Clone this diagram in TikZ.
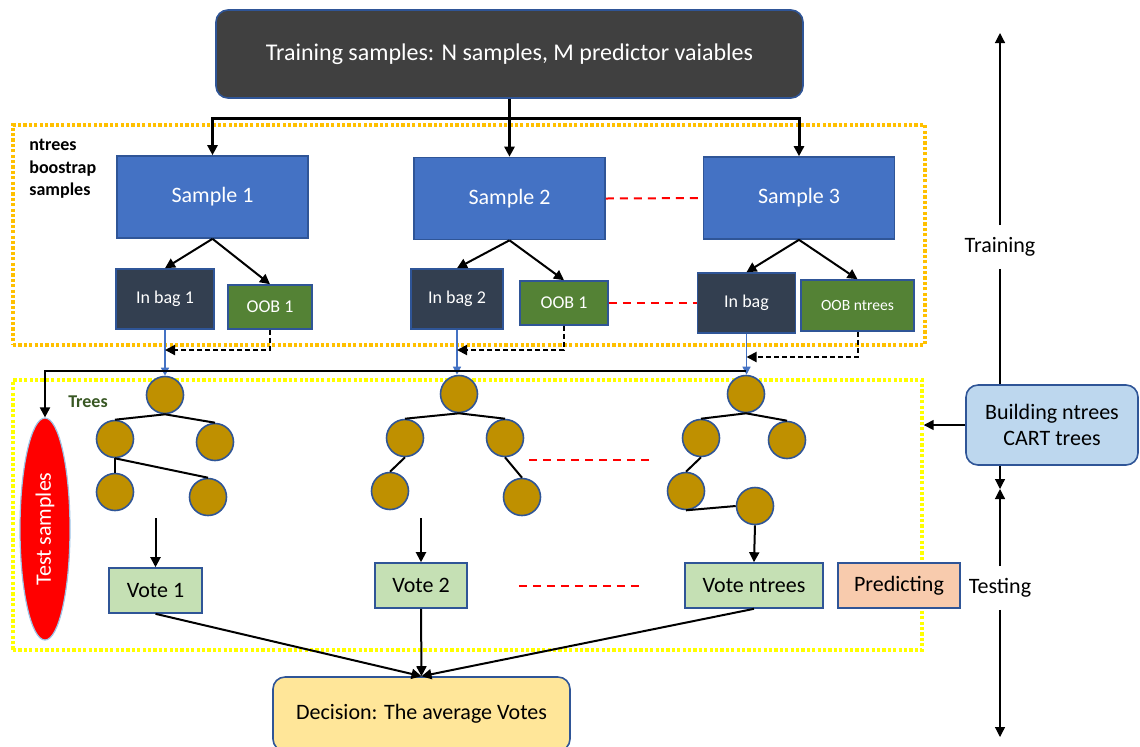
\documentclass[tikz,border=0pt]{standalone}
\usepackage{fontspec}
\setmainfont{Carlito}
\usetikzlibrary{trees,shapes.geometric,arrows.meta}

\definecolor{boxblue}{HTML}{4472C4}
\definecolor{edgeblue}{HTML}{2F5597}
\definecolor{topgray}{HTML}{404040}
\definecolor{baggray}{HTML}{333F50}
\definecolor{oobgreen}{HTML}{548235}
\definecolor{leafgold}{HTML}{BF9000}
\definecolor{votegreen}{HTML}{C5E0B4}
\definecolor{predpeach}{HTML}{F8CBAD}
\definecolor{decyellow}{HTML}{FFE699}
\definecolor{buildblue}{HTML}{BDD7EE}
\definecolor{frameorange}{HTML}{FFC000}
\definecolor{frameyellow}{HTML}{FFFF00}
\definecolor{treegreen}{HTML}{385723}
\definecolor{rimblue}{HTML}{9DC3E6}

\begin{document}
\begin{tikzpicture}[x=0.5pt, y=-0.5pt, >={Triangle[length=5pt,width=5pt]},
  level distance=22pt, sibling distance=50pt,
  level 2/.style={level distance=26.5pt, sibling distance=46.5pt},
  edge from parent/.style={draw, line width=1pt},
  edge from parent path={(\tikzparentnode.south) -- (\tikzchildnode.north)},
  box/.style={draw=edgeblue, line width=0.8pt, inner sep=0pt, align=center},
  samplebox/.style={box, fill=boxblue, text=white, minimum width=95.5pt,
    minimum height=41pt, font=\fontsize{11}{13}\selectfont},
  bagbox/.style={box, fill=baggray, text=white, minimum width=49pt,
    minimum height=30pt, font=\fontsize{9}{11}\selectfont},
  oobbox/.style={box, fill=oobgreen, text=white, minimum height=22pt,
    font=\fontsize{9}{11}\selectfont},
  votebox/.style={box, fill=votegreen, minimum height=22.5pt,
    font=\fontsize{11}{13}\selectfont},
  leaf/.style={circle, draw=edgeblue, line width=0.8pt, fill=leafgold,
    minimum size=18.5pt, inner sep=0pt},
  frame/.style={line width=1.7pt, dash pattern=on 1.6pt off 1.1pt, inner sep=0pt},
  feed/.style={->, line width=1.5pt},
  split/.style={->, line width=1pt},
  baglink/.style={-{Triangle[length=4pt,width=4pt]}, boxblue, line width=0.6pt},
  ooblink/.style={->, line width=1pt, dash pattern=on 2.5pt off 1.5pt},
  gap/.style={red, line width=1pt, dash pattern=on 4pt off 3pt},
  axis/.style={->, line width=0.6pt},
  phase/.style={font=\fontsize{11}{13}\selectfont, inner sep=6pt}]
  \useasboundingbox (0,0) rectangle (1140,746);

  % frames
  \node[frame, draw=frameorange, minimum width=456pt, minimum height=110pt]
    (bagframe) at (469,235) {};
  \node[frame, draw=frameyellow, minimum width=454.5pt, minimum height=135pt]
    (treeframe) at (467.5,515) {};

  % data and bootstrap samples
  \node[box, fill=topgray, text=white, rounded corners=6pt, minimum width=293.5pt,
    minimum height=44pt, font=\fontsize{12}{14}\selectfont]
    (source) at (509.5,54) {Training samples: N samples, M predictor vaiables};
  \node[font=\bfseries\fontsize{9}{11.25}\selectfont, align=left, anchor=north west,
    inner sep=0pt] (baglabel) at (29,139) {ntrees\\boostrap\\samples};
  \node[samplebox] (s1) at (212.5,197) {Sample 1};
  \node[samplebox] (s2) at (509.5,198.5) {Sample 2};
  \node[samplebox] (s3) at (799,198) {Sample 3};
  \node[bagbox] (bag1) at (165,299) {In bag 1};
  \node[oobbox, minimum width=42pt] (oob1) at (270,307) {OOB 1};
  \node[bagbox, minimum width=46pt] (bag2) at (457,299) {In bag 2};
  \node[oobbox, minimum width=44pt] (oob2) at (564,303) {OOB 1};
  \node[bagbox] (bag3) at (746.5,303) {In bag};
  \node[oobbox, minimum width=56.5pt, minimum height=25.5pt,
    font=\fontsize{7.8}{9}\selectfont] (oob3) at (857.5,305.5) {OOB ntrees};

  \coordinate (fork) at (509.5,118);
  \draw[feed] (source.south) -- (s2.north);
  \draw[feed] (fork) -| (s1.north);
  \draw[feed] (fork) -| (s3.north);
  \draw[split] (s1.south) -- (bag1.north);
  \draw[split] (s1.south) -- (oob1.north);
  \draw[split] (s2.south) -- (bag2.north);
  \draw[split] (s2.south) -- (oob2.north);
  \draw[split] (s3.south) -- (bag3.north);
  \draw[split] (s3.south) -- (oob3.north);
  \draw[gap] (s2.east) -- (s3.west);
  \draw[gap] (oob2.east) -- (bag3.west);

  % trees
  \node[font=\bfseries\fontsize{9}{11}\selectfont, text=treegreen]
    (treelabel) at (88,402) {Trees};
  \node[leaf] (t1) at (165,395) {}
    child {node[leaf] (t1a) {}
      child[xshift=23.25pt] {node[leaf] (t1c) {}}
      child[xshift=23.25pt, yshift=-2.5pt] {node[leaf] (t1d) {}}}
    child[yshift=-1.5pt] {node[leaf] (t1b) {}};
  \node[leaf] (t2) at (459,394) {}
    child[xshift=-2pt] {node[leaf] (t2a) {}
      child[xshift=-7.5pt] {node[leaf] (t2c) {}}}
    child[xshift=-2pt] {node[leaf] (t2b) {}
      child[xshift=8.5pt, yshift=-3pt] {node[leaf] (t2d) {}}};
  \node[leaf] (t3) at (746,394) {}
    child[xshift=2.5pt] {node[leaf] (t3a) {}
      child[xshift=-7.5pt] {node[leaf] (t3c) {}
        child[grow=right, level distance=34.5pt, yshift=-7.5pt,
          edge from parent path={(\tikzparentnode.south) -- (\tikzchildnode.west)}]
          {node[leaf] (t3d) {}}}}
    child[xshift=-4.5pt, yshift=-1pt] {node[leaf] (t3b) {}};

  \draw[baglink] (bag1.south) -- (bag1.south |- t1.north);
  \draw[baglink] (bag2.south) -- (bag2.south |- t2.north);
  \draw[baglink] (bag3.south) -- (bag3.south |- t3.north);
  \draw[ooblink] (oob1.south) |- (bag1.south |- 0,350);
  \draw[ooblink] (oob2.south) |- (bag2.south |- 0,350);
  \draw[ooblink] (oob3.south) |- (bag3.south |- 0,357);

  \node[ellipse, fill=red, draw=rimblue, line width=0.6pt, minimum width=111pt,
    minimum height=25pt, inner sep=0pt, rotate=90, text=white,
    font=\fontsize{11}{13}\selectfont] (testset) at (45,529) {Test samples};
  \draw[split] ([yshift=2pt]t3.north) -| (testset.east);

  \coordinate (dotsA) at (529,460);
  \coordinate (dotsB) at (652,460);
  \draw[gap] (dotsA) -- (dotsB);

  % votes
  \node[votebox, minimum width=46.5pt] (vote1) at (155.5,590.5) {Vote 1};
  \node[votebox, minimum width=46pt] (vote2) at (421,585.5) {Vote 2};
  \node[votebox, minimum width=69pt] (vote3) at (754,585.5) {Vote ntrees};
  \node[box, fill=predpeach, minimum width=61pt, minimum height=22.5pt,
    font=\fontsize{11}{13}\selectfont] (predict) at (899,585.5) {Predicting};
  \draw[split] ([yshift=24.5pt]vote1.north) -- (vote1.north);
  \draw[split] ([yshift=22pt]vote2.north) -- (vote2.north);
  \draw[split] (t3d.south) -- (vote3.north);
  \draw[gap] ([xshift=25.5pt]vote2.east) -- ([xshift=-22.5pt]vote3.west);

  \node[box, fill=decyellow, rounded corners=6pt, minimum width=148.5pt,
    minimum height=37pt, font=\fontsize{11}{13}\selectfont]
    (decision) at (421.5,714) {Decision: The average Votes};
  \draw[split] (vote1.south) -- (decision.north);
  \draw[split] (vote2.south) -- (decision.north);
  \draw[split] (vote3.south) -- (decision.north);

  % phases
  \node[box, fill=buildblue, rounded corners=6pt, minimum width=86pt,
    minimum height=40pt, font=\fontsize{11}{13}\selectfont]
    (build) at (1052,425) {Building ntrees\\CART trees};
  \draw[->, line width=0.8pt] (build.west) -- (build.west -| treeframe.east);
  \node[phase] (trainlabel) at (1000,247) {Training};
  \node[phase] (testlabel) at (1000,588) {Testing};
  \coordinate (traintop) at (1000,33);
  \coordinate (switch) at (1000,489);
  \coordinate (testbottom) at (1000,737);
  \draw[axis] (trainlabel.north) -- (traintop);
  \draw[line width=0.6pt] (trainlabel.south) -- (trainlabel.south |- build.north);
  \draw[axis] (trainlabel |- build.south) -- (switch);
  \draw[axis] (testlabel.north) -- (switch);
  \draw[axis] (testlabel.south) -- (testbottom);
\end{tikzpicture}
\end{document}
